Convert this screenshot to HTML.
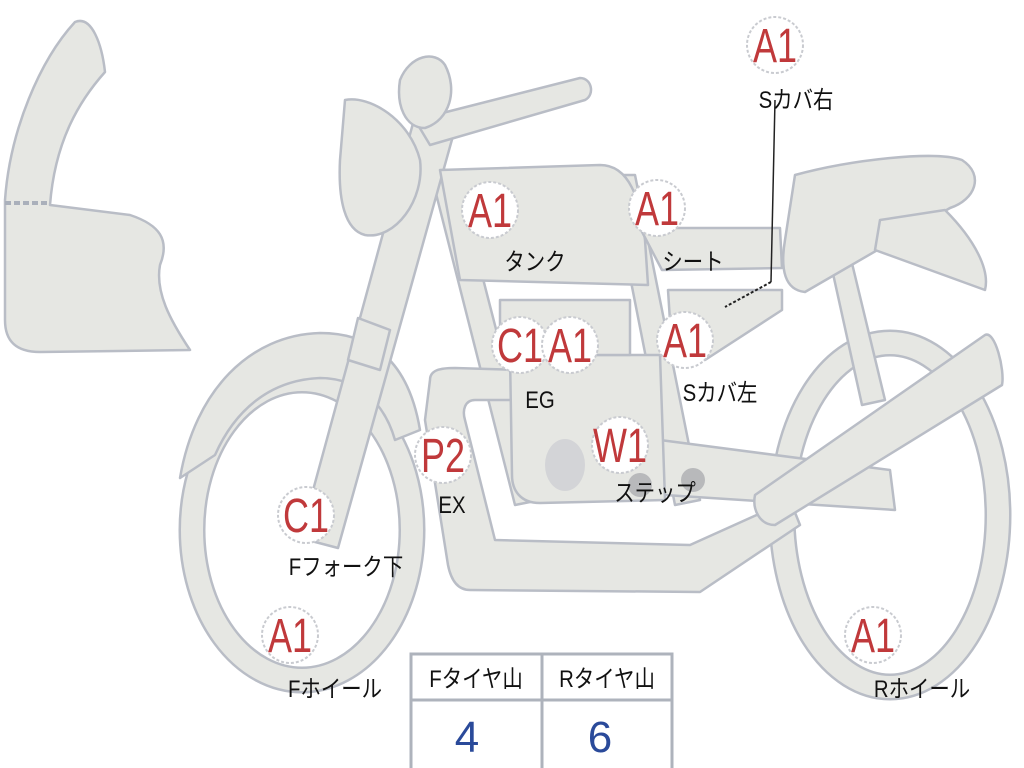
<!DOCTYPE html>
<html><head><meta charset="utf-8"><style>
body{margin:0;background:#fff;}
svg{display:block}
.s{fill:#e6e7e3;stroke:#b9bdc6;stroke-width:2.5;stroke-linejoin:round}
.c{fill:#fff;stroke:#c9cbd0;stroke-width:2;stroke-dasharray:3 2}
.r{font-family:"Liberation Sans",sans-serif;font-size:48px;fill:#c0393b;text-anchor:middle}
.l{font-family:"Liberation Sans","Noto Sans CJK JP",sans-serif;font-size:24px;fill:#111;text-anchor:middle}
</style></head><body>
<svg width="1024" height="768" viewBox="0 0 1024 768">
<path class="s" d="M5,200 C10,130 40,60 75,22 C92,15 102,45 105,72 C80,100 55,140 50,205 L130,215 C160,225 170,240 160,265 C155,292 170,320 190,350 L40,352 C15,352 5,340 5,320 Z"/>
<line x1="5" y1="203" x2="50" y2="203" stroke="#aab0bb" stroke-width="4" stroke-dasharray="6 3"/>
<ellipse cx="302" cy="530" rx="110" ry="150" fill="none" stroke="#b9bdc6" stroke-width="27"/>
<ellipse cx="302" cy="530" rx="110" ry="150" fill="none" stroke="#e6e7e3" stroke-width="22"/>
<ellipse cx="890" cy="515" rx="108" ry="172" fill="none" stroke="#b9bdc6" stroke-width="27"/>
<ellipse cx="890" cy="515" rx="108" ry="172" fill="none" stroke="#e6e7e3" stroke-width="22"/>
<path class="s" d="M180,478 C195,390 250,335 320,333 C380,333 410,370 420,430 L395,440 C385,405 360,378 320,378 C270,380 235,410 215,455 Z"/>
<path class="s" d="M430,170 L455,170 L540,500 L515,505 Z"/>
<path class="s" d="M610,175 L635,175 L700,500 L675,505 Z"/>
<path class="s" d="M830,260 L850,255 L885,400 L862,405 Z"/>
<path class="s" d="M430,380 C430,370 440,368 455,368 L520,370 L520,400 L475,400 C465,400 462,410 465,420 L495,540 L690,545 L790,500 L800,525 L700,592 L470,590 C455,590 450,575 448,565 L425,420 Z"/>
<path class="s" d="M660,440 L890,470 L895,510 L665,495 Z"/>
<path class="s" d="M510,355 L660,355 L665,500 L540,503 C520,503 512,490 512,475 Z"/>
<rect class="s" x="500" y="300" width="130" height="55"/>
<ellipse cx="565" cy="465" rx="20" ry="26" fill="#d3d4d7"/>
<circle cx="640" cy="485" r="12" fill="#b8b9bb"/><circle cx="693" cy="480" r="12" fill="#b8b9bb"/>
<path class="s" d="M418,105 L458,118 L338,548 L300,538 Z"/>
<path class="s" d="M358,318 L390,330 L380,370 L348,360 Z"/>
<path class="s" d="M415,120 L580,78 C592,78 595,95 585,100 L430,145 Z"/>
<path class="s" d="M345,100 C370,95 410,120 420,160 C425,200 395,240 365,235 C345,230 338,200 340,160 Z"/>
<path class="s" d="M400,80 C410,55 435,50 445,65 C458,90 450,120 425,128 C405,128 396,105 400,80 Z"/>
<path class="s" d="M440,170 L600,165 C630,165 640,200 645,240 L648,285 L460,280 Z"/>
<path class="s" d="M640,228 L780,228 L782,268 L662,270 Z"/>
<path class="s" d="M668,290 L782,290 L782,310 L705,360 L672,352 Z"/>
<path class="s" d="M795,175 C850,160 935,150 962,160 C985,175 975,200 950,208 L805,292 C785,290 780,270 785,240 Z"/>
<path class="s" d="M880,220 L945,210 C975,240 990,270 985,290 L875,250 Z"/>
<path class="s" d="M755,495 L985,335 C995,330 1005,370 1002,385 L775,525 C760,525 752,510 755,495 Z"/>
<polyline points="775,100 771,282" fill="none" stroke="#222" stroke-width="1.5"/>
<line x1="771" y1="282" x2="725" y2="307" stroke="#222" stroke-width="2" stroke-dasharray="3 2"/>
<circle class="c" cx="775" cy="45" r="28"/><text class="r" transform="translate(775,62) scale(0.75,1)">A1</text>
<circle class="c" cx="490" cy="210" r="28"/><text class="r" transform="translate(490,227) scale(0.75,1)">A1</text>
<circle class="c" cx="657" cy="208" r="28"/><text class="r" transform="translate(657,225) scale(0.75,1)">A1</text>
<circle class="c" cx="520" cy="345" r="28"/><text class="r" transform="translate(520,362) scale(0.75,1)">C1</text>
<circle class="c" cx="570" cy="345" r="28"/><text class="r" transform="translate(570,362) scale(0.75,1)">A1</text>
<circle class="c" cx="685" cy="340" r="28"/><text class="r" transform="translate(685,357) scale(0.75,1)">A1</text>
<circle class="c" cx="620" cy="445" r="28"/><text class="r" transform="translate(620,462) scale(0.75,1)">W1</text>
<circle class="c" cx="443" cy="455" r="28"/><text class="r" transform="translate(443,472) scale(0.75,1)">P2</text>
<circle class="c" cx="306" cy="515" r="28"/><text class="r" transform="translate(306,532) scale(0.75,1)">C1</text>
<circle class="c" cx="290" cy="635" r="28"/><text class="r" transform="translate(290,652) scale(0.75,1)">A1</text>
<circle class="c" cx="873" cy="635" r="28"/><text class="r" transform="translate(873,652) scale(0.75,1)">A1</text>
<text class="l" transform="translate(796,108) scale(0.85,1)">Sカバ右</text>
<text class="l" transform="translate(535,270) scale(0.85,1)">タンク</text>
<text class="l" transform="translate(693,270) scale(0.85,1)">シート</text>
<text class="l" transform="translate(540,408) scale(0.85,1)">EG</text>
<text class="l" transform="translate(720,401) scale(0.85,1)">Sカバ左</text>
<text class="l" transform="translate(655,501) scale(0.85,1)">ステップ</text>
<text class="l" transform="translate(452,513) scale(0.85,1)">EX</text>
<text class="l" transform="translate(346,575) scale(0.85,1)">Fフォーク下</text>
<text class="l" transform="translate(335,697) scale(0.85,1)">Fホイール</text>
<text class="l" transform="translate(922,697) scale(0.85,1)">Rホイール</text>
<rect x="411" y="654" width="261" height="120" fill="#fff" stroke="#aeb3bc" stroke-width="3"/>
<line x1="411" y1="700" x2="672" y2="700" stroke="#aeb3bc" stroke-width="3"/>
<line x1="542" y1="654" x2="542" y2="768" stroke="#aeb3bc" stroke-width="3"/>
<text class="l" transform="translate(476,687) scale(0.85,1)">Fタイヤ山</text>
<text class="l" transform="translate(607,687) scale(0.85,1)">Rタイヤ山</text>
<text x="467" y="752" font-family="Liberation Sans,sans-serif" font-size="44" fill="#2a4a9a" text-anchor="middle">4</text>
<text x="600" y="752" font-family="Liberation Sans,sans-serif" font-size="44" fill="#2a4a9a" text-anchor="middle">6</text>
</svg>
</body></html>
